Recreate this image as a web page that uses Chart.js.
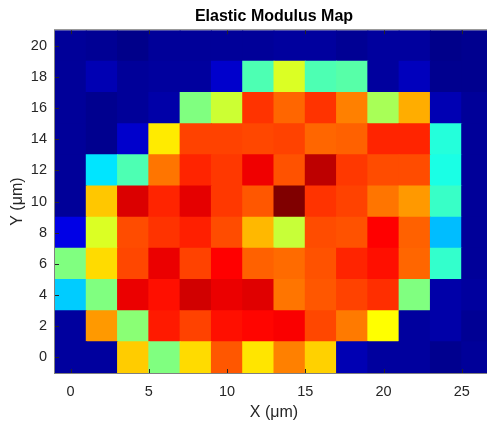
<!DOCTYPE html>
<html>
<head>
<meta charset="utf-8">
<title>Elastic Modulus Map</title>
<script src="https://cdn.jsdelivr.net/npm/chart.js@4/dist/chart.umd.min.js"></script>
<style>
    html, body { margin: 0; padding: 0; background: #fff; overflow: hidden; }
    #wrap { width: 493px; height: 421px; }
</style>
</head>
<body>
<div id="wrap"><canvas id="modulusChart"></canvas></div>
<script>
// grid positions (um)
var xPositions = [0, 2, 4, 6, 8, 10, 12, 14, 16, 18, 20, 22, 24, 26];
var yPositions = [0, 2, 4, 6, 8, 10, 12, 14, 16, 18, 20];
var xTickValues = [0, 5, 10, 15, 20, 25];
var yTickValues = [0, 2, 4, 6, 8, 10, 12, 14, 16, 18, 20];

// normalized modulus, one array per y position (bottom row first)
var modulusY0  = [0.03, 0.03, 0.675, 0.50, 0.66, 0.79, 0.65, 0.75, 0.67, 0.05, 0.03, 0.03, 0.015, 0.025];
var modulusY2  = [0.03, 0.725, 0.51, 0.85, 0.81, 0.86, 0.87, 0.88, 0.805, 0.755, 0.625, 0.03, 0.04, 0.02];
var modulusY4  = [0.325, 0.50, 0.895, 0.86, 0.92, 0.895, 0.905, 0.76, 0.79, 0.81, 0.83, 0.50, 0.04, 0.03];
var modulusY6  = [0.50, 0.66, 0.805, 0.895, 0.81, 0.875, 0.78, 0.77, 0.795, 0.84, 0.86, 0.775, 0.425, 0.025];
var modulusY8  = [0.10, 0.59, 0.80, 0.825, 0.845, 0.80, 0.695, 0.57, 0.80, 0.795, 0.875, 0.78, 0.31, 0.025];
var modulusY10 = [0.025, 0.68, 0.91, 0.84, 0.90, 0.82, 0.79, 1.00, 0.825, 0.81, 0.76, 0.725, 0.43, 0.025];
var modulusY12 = [0.025, 0.35, 0.45, 0.76, 0.84, 0.82, 0.89, 0.795, 0.94, 0.82, 0.80, 0.80, 0.40, 0.025];
var modulusY14 = [0.025, 0.015, 0.075, 0.645, 0.81, 0.81, 0.805, 0.81, 0.775, 0.78, 0.84, 0.84, 0.41, 0.025];
var modulusY16 = [0.025, 0.015, 0.025, 0.04, 0.50, 0.575, 0.825, 0.775, 0.825, 0.75, 0.54, 0.705, 0.05, 0.025];
var modulusY18 = [0.025, 0.05, 0.025, 0.03, 0.03, 0.075, 0.45, 0.59, 0.45, 0.46, 0.03, 0.06, 0.015, 0.015];
var modulusY20 = [0.025, 0.02, 0.01, 0.025, 0.025, 0.025, 0.025, 0.03, 0.03, 0.02, 0.03, 0.03, 0.01, 0.015];

var modulusRows = [modulusY0, modulusY2, modulusY4, modulusY6, modulusY8, modulusY10,
                   modulusY12, modulusY14, modulusY16, modulusY18, modulusY20];

var fontFamily = "'Liberation Sans', Arial, Helvetica, sans-serif";

// matlab jet colormap
function jetColor(v){
    var clamp = function(c){ return Math.min(Math.max(c, 0), 1); };
    var r = clamp(Math.min(4*v - 1.5, -4*v + 4.5));
    var g = clamp(Math.min(4*v - 0.5, -4*v + 3.5));
    var b = clamp(Math.min(4*v + 0.5, -4*v + 2.5));
    return 'rgb(' + Math.round(r*255) + ',' + Math.round(g*255) + ',' + Math.round(b*255) + ')';
}

var halfStepX = (xPositions[1] - xPositions[0]) / 2;
var halfStepY = (yPositions[1] - yPositions[0]) / 2;

var datasets = modulusRows.map(function(row, j){
    return {
        data: row.map(function(v, i){
            return {x: xPositions[i], y: [yPositions[j] - halfStepY, yPositions[j] + halfStepY]};
        }),
        backgroundColor: row.map(jetColor),
        borderWidth: 0,
        grouped: false,
        categoryPercentage: 1,
        barPercentage: 1,
        inflateAmount: 0.5
    };
});

// MATLAB style box with inward ticks
var axesBox = {
    id: 'axesBox',
    afterDatasetsDraw: function(chart){
        var ctx = chart.ctx;
        var area = chart.chartArea;
        var xs = chart.scales.x;
        var ys = chart.scales.y;
        ctx.save();
        ctx.strokeStyle = '#262626';
        ctx.lineWidth = 1;
        ctx.beginPath();
        xs.ticks.forEach(function(t){
            var px = Math.round(xs.getPixelForValue(t.value)) + 0.5;
            ctx.moveTo(px, area.bottom); ctx.lineTo(px, area.bottom - 4);
            ctx.moveTo(px, area.top); ctx.lineTo(px, area.top + 4);
        });
        ys.ticks.forEach(function(t){
            var py = Math.round(ys.getPixelForValue(t.value)) + 0.5;
            ctx.moveTo(area.left, py); ctx.lineTo(area.left + 4, py);
            ctx.moveTo(area.right, py); ctx.lineTo(area.right - 4, py);
        });
        ctx.stroke();
        ctx.strokeStyle = '#808080';
        ctx.strokeRect(area.left - 0.5, area.top - 0.5, area.right - area.left + 1, area.bottom - area.top + 1);
        ctx.restore();
    }
};

new Chart(document.getElementById('modulusChart'), {
    type: 'bar',
    data: { datasets: datasets },
    plugins: [axesBox],
    options: {
        responsive: true,
        maintainAspectRatio: false,
        animation: false,
        layout: { padding: 0 },
        plugins: {
            legend: { display: false },
            tooltip: { enabled: false },
            title: {
                display: true,
                text: 'Elastic Modulus Map',
                color: '#000',
                fullSize: false,
                font: { family: fontFamily, size: 16, weight: 'bold' },
                padding: { top: 7, bottom: 4 }
            }
        },
        scales: {
            x: {
                type: 'linear',
                offset: false,
                min: xPositions[0] - halfStepX,
                max: xPositions[xPositions.length - 1] + halfStepX,
                afterBuildTicks: function(scale){
                    scale.ticks = xTickValues.map(function(v){ return {value: v}; });
                },
                afterFit: function(scale){ scale.height = 48; },
                grid: { display: false, drawTicks: false },
                border: { display: false },
                ticks: {
                    color: '#262626',
                    padding: 10,
                    maxRotation: 0,
                    autoSkip: false,
                    font: { family: fontFamily, size: 14.5 }
                },
                title: {
                    display: true,
                    text: 'X (\u03bcm)',
                    color: '#262626',
                    font: { family: fontFamily, size: 16 },
                    padding: { top: 0, bottom: -1 }
                }
            },
            y: {
                type: 'linear',
                min: yPositions[0] - halfStepY,
                max: yPositions[yPositions.length - 1] + halfStepY,
                afterBuildTicks: function(scale){
                    scale.ticks = yTickValues.map(function(v){ return {value: v}; });
                },
                afterFit: function(scale){ scale.width = 55; },
                grid: { display: false, drawTicks: false },
                border: { display: false },
                ticks: {
                    color: '#262626',
                    padding: 8,
                    autoSkip: false,
                    font: { family: fontFamily, size: 14.5 }
                },
                title: {
                    display: true,
                    text: 'Y (\u03bcm)',
                    color: '#262626',
                    font: { family: fontFamily, size: 16 },
                    padding: { top: 8, bottom: 0 }
                }
            }
        }
    }
});
</script>
</body>
</html>
